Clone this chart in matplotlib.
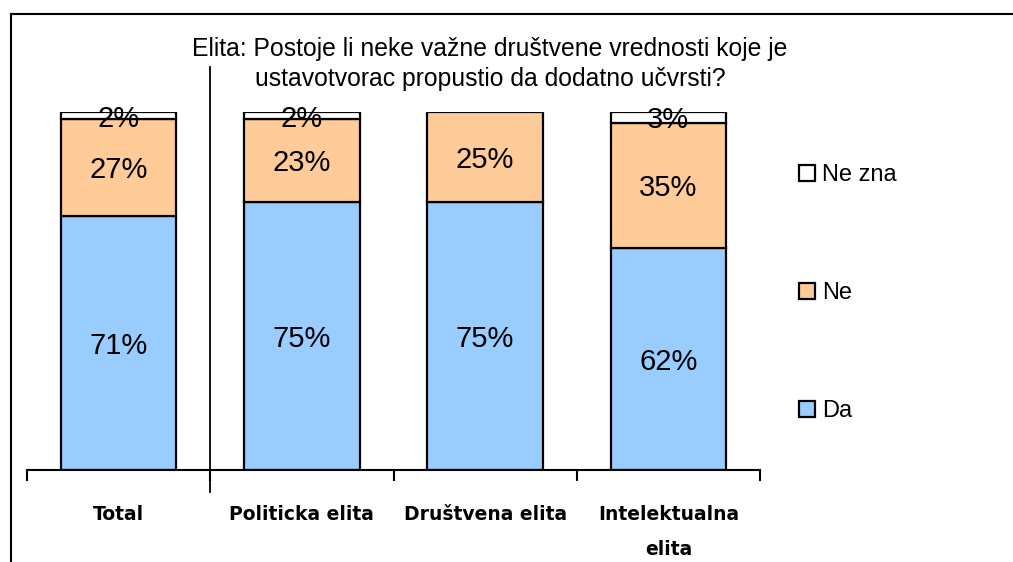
import matplotlib.pyplot as plt
from matplotlib.lines import Line2D

# Data
categories = ['Total', 'Politicka elita', 'Društvena elita', 'Intelektualna\nelita']
da = [71, 75, 75, 62]
ne = [27, 23, 25, 35]
ne_zna = [2, 2, 0, 3]

title = 'Elita: Postoje li neke važne društvene vrednosti koje je\nustavotvorac propustio da dodatno učvrsti?'

W, H = 1013, 562
fig = plt.figure(figsize=(W / 100, H / 100), dpi=100)
plt.rcParams['font.family'] = ['Liberation Sans', 'DejaVu Sans']

# axes placed in pixel terms: x from 27 to 760, y from 470 (0%) to 112 (100%)
ax = fig.add_axes([27 / W, (H - 470) / H, 733 / W, 358 / H])

x = list(range(len(categories)))
bw = 0.63
ec = 'black'
lw = 1.6
b1 = ax.bar(x, da, bw, color='#99CCFF', edgecolor=ec, linewidth=lw, label='Da')
bottom2 = da
b2 = ax.bar(x, ne, bw, bottom=bottom2, color='#FFCC99', edgecolor=ec, linewidth=lw, label='Ne')
bottom3 = [a + b for a, b in zip(da, ne)]
nz_x = [i for i, v in zip(x, ne_zna) if v > 0]
nz_v = [v for v in ne_zna if v > 0]
nz_b = [b for b, v in zip(bottom3, ne_zna) if v > 0]
b3 = ax.bar(nz_x, nz_v, bw, bottom=nz_b, color='white', edgecolor=ec, linewidth=lw, label='Ne zna')

# value labels
for i in x:
    ax.text(i, da[i] / 2, f'{da[i]}%', ha='center', va='center_baseline', fontsize=21)
    ax.text(i, da[i] + ne[i] / 2, f'{ne[i]}%', ha='center', va='center_baseline', fontsize=21)
    if ne_zna[i] > 0:
        ax.text(i, bottom3[i] + ne_zna[i] / 2, f'{ne_zna[i]}%', ha='center', va='center_baseline', fontsize=21)

ax.set_xlim(-0.5, len(categories) - 0.5)
ax.set_ylim(0, 100)
for s in ['left', 'right', 'top']:
    ax.spines[s].set_visible(False)
ax.spines['bottom'].set_linewidth(1.5)
ax.set_yticks([])

ax.set_xticks(x)
ax.set_xticklabels(categories, fontsize=13.5, fontweight='bold', linespacing=2.05,
                   family=['Liberation Sans Narrow', 'DejaVu Sans'], va='top')
ax.tick_params(axis='x', which='major', length=0, pad=25.5)
ax.set_xticks([i - 0.5 for i in range(len(categories) + 1)], minor=True)
ax.tick_params(axis='x', which='minor', length=8, width=1.5, direction='out')

# separator between Total and the elite groups
ax.plot([0.5, 0.5], [-6.1, 112.6], color='black', linewidth=1.3, clip_on=False)

fig.text(490 / W, 1 - 64 / H, title, ha='center', va='center', fontsize=17.8, linespacing=1.3)

# legend on the right, reversed order
fig.legend([b3, b2, b1], ['Ne zna', 'Ne', 'Da'], loc='upper left',
           bbox_to_anchor=(778 / W, 1 - 143 / H), frameon=False, fontsize=17,
           handlelength=0.65, handleheight=0.65, handletextpad=0.3, labelspacing=4.07)

# outer chart frame (left and top edges visible)
fig.add_artist(Line2D([11 / W, 11 / W], [0, 1 - 14 / H], color='black', linewidth=1.5))
fig.add_artist(Line2D([11 / W, 1], [1 - 14 / H, 1 - 14 / H], color='black', linewidth=1.5))

fig.savefig('out.png', dpi=100)
